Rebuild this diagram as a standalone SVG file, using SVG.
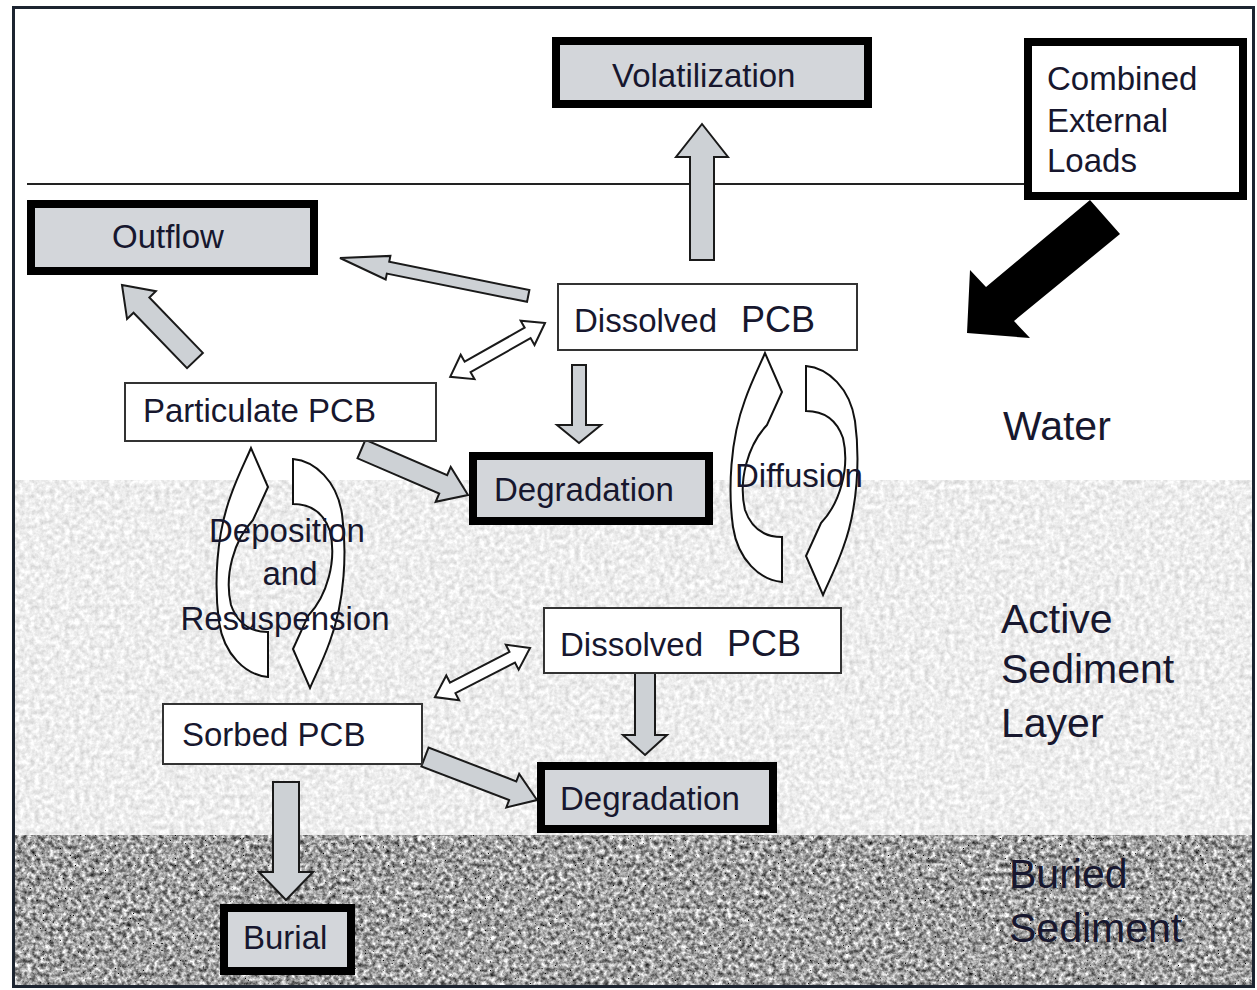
<svg xmlns="http://www.w3.org/2000/svg" width="1257" height="990" viewBox="0 0 1257 990">
<style>
 .t{font-family:"Liberation Sans",Arial,sans-serif;font-size:33px;fill:#17172e}
 .lbl{font-size:41px}
 .pcb{font-size:36px}
 .thick{fill:#d3d6da;stroke:#000;stroke-width:8}
 .thin{fill:#fff;stroke:#333;stroke-width:2}
 .ga{fill:#cdd1d5;stroke:#1a1a1a;stroke-width:2}
 .wa{fill:#fff;stroke:#1a1a1a;stroke-width:2}
 .curl{fill:#fff;stroke:#111;stroke-width:2}
</style>
<defs>
 <filter id="fa" x="0" y="0" width="1" height="1" color-interpolation-filters="sRGB">
  <feTurbulence type="fractalNoise" baseFrequency="0.2" numOctaves="3" seed="4"/>
  <feColorMatrix type="matrix" values="0.3 0 0 0 0.78  0.3 0 0 0 0.78  0.3 0 0 0 0.78  0 0 0 0 1"/>
  <feComposite in2="SourceGraphic" operator="in"/>
 </filter>
 <filter id="fb" x="0" y="0" width="1" height="1" color-interpolation-filters="sRGB">
  <feTurbulence type="fractalNoise" baseFrequency="0.22" numOctaves="3" seed="7" result="n"/>
  <feColorMatrix in="n" type="matrix" values="1.3 0 0 0 -0.02  1.3 0 0 0 -0.02  1.3 0 0 0 -0.02  0 0 0 0 1" result="g"/>
  <feTurbulence type="fractalNoise" baseFrequency="0.6" numOctaves="1" seed="11" result="n2"/>
  <feColorMatrix in="n2" type="matrix" values="0 0 0 0 0  0 0 0 0 0  0 0 0 0 0  14 0 0 0 -10" result="d"/>
  <feComposite in="d" in2="g" operator="over"/>
  <feComposite in2="SourceGraphic" operator="in"/>
 </filter>
 <path id="curl" d="M782,582 C760,580 738,560 733,527 C728,490 730,440 745,400 C752,380 760,365 765,353 L782,392 L767,425 C748,445 738,480 745,510 C752,530 765,537 782,537 Z"/>
</defs>

<g id="background">
 <rect x="0" y="0" width="1257" height="990" fill="#fff"/>
 <rect x="15" y="480" width="1238" height="356" fill="#eee" filter="url(#fa)"/>
 <rect x="15" y="835" width="1238" height="151" fill="#999" filter="url(#fb)"/>
 <line x1="27" y1="184" x2="1026" y2="184" stroke="#222" stroke-width="2"/>
 <rect x="13.5" y="7.5" width="1240" height="979" fill="none" stroke="#1c2430" stroke-width="3"/>
</g>

<g id="connectors">
 <polygon class="ga" transform="translate(702,124) rotate(-90)" points="0,0 -33,-26 -33,-12 -136,-12 -136,12 -33,12 -33,26"/>
 <polygon class="ga" transform="translate(340,258) rotate(191.4)" points="0,0 -49,-12 -49,-6 -192,-6 -192,6 -49,6 -49,12"/>
 <polygon class="ga" transform="translate(122,285) rotate(226)" points="0,0 -28,-20 -28,-11 -105,-11 -105,11 -28,11 -28,20"/>
 <polygon class="wa" transform="translate(545,323) rotate(-29.6)" points="0,0 -20,-14 -20,-6 -89,-6 -89,-14 -109,0 -89,14 -89,6 -20,6 -20,14"/>
 <polygon class="ga" transform="translate(579,443) rotate(90)" points="0,0 -18,-22 -18,-7 -78,-7 -78,7 -18,7 -18,22"/>
 <polygon class="ga" transform="translate(468,495) rotate(23.3)" points="0,0 -27,-19 -27,-10 -116,-10 -116,10 -27,10 -27,19"/>
 <polygon class="ga" transform="translate(645,755) rotate(90)" points="0,0 -20,-22 -20,-10 -82,-10 -82,10 -20,10 -20,22"/>
 <polygon class="wa" transform="translate(530,648) rotate(-27.3)" points="0,0 -20,-14 -20,-6 -87,-6 -87,-14 -107,0 -87,14 -87,6 -20,6 -20,14"/>
 <polygon class="ga" transform="translate(537,800) rotate(21)" points="0,0 -26,-18 -26,-10 -120,-10 -120,10 -26,10 -26,18"/>
 <polygon class="ga" transform="translate(286,900) rotate(90)" points="0,0 -28,-27 -28,-13 -118,-13 -118,13 -28,13 -28,27"/>
 <polygon fill="#000" points="1090,200 1120,234 1014,321 1030,338 967,333 970,270 986,287"/>
 <use href="#curl" class="curl"/>
 <use href="#curl" class="curl" transform="rotate(180 794 474)"/>
 <use href="#curl" class="curl" transform="translate(-514 95)"/>
 <use href="#curl" class="curl" transform="translate(-513 93) rotate(180 794 474)"/>
 <text class="t" x="735" y="487">Diffusion</text>
 <text class="t" x="287" y="542" text-anchor="middle">Deposition</text>
 <text class="t" x="290" y="585" text-anchor="middle">and</text>
 <text class="t" x="285" y="630" text-anchor="middle">Resuspension</text>
</g>

<g id="volatilization">
 <rect class="thick" x="556" y="41" width="312" height="63"/>
 <text class="t" x="612" y="87">Volatilization</text>
</g>
<g id="combined-loads">
 <rect x="1028" y="42" width="215" height="154" fill="#fff" stroke="#000" stroke-width="8"/>
 <text class="t" x="1047" y="90">Combined</text>
 <text class="t" x="1047" y="132">External</text>
 <text class="t" x="1047" y="172">Loads</text>
</g>
<g id="outflow">
 <rect class="thick" x="31" y="204" width="283" height="67"/>
 <text class="t" x="112" y="248">Outflow</text>
</g>
<g id="dissolved-water">
 <rect class="thin" x="558" y="284" width="299" height="66"/>
 <text class="t" x="574" y="332">Dissolved</text>
 <text class="t pcb" x="741" y="332">PCB</text>
</g>
<g id="particulate">
 <rect class="thin" x="125" y="383" width="311" height="58"/>
 <text class="t" x="143" y="422">Particulate PCB</text>
</g>
<g id="degradation-water">
 <rect class="thick" x="473" y="456" width="236" height="65"/>
 <text class="t" x="494" y="501">Degradation</text>
</g>
<g id="dissolved-sediment">
 <rect class="thin" x="544" y="608" width="297" height="65"/>
 <text class="t" x="560" y="656">Dissolved</text>
 <text class="t pcb" x="727" y="656">PCB</text>
</g>
<g id="sorbed">
 <rect class="thin" x="163" y="704" width="259" height="60"/>
 <text class="t" x="182" y="746">Sorbed PCB</text>
</g>
<g id="degradation-sediment">
 <rect class="thick" x="541" y="766" width="232" height="63"/>
 <text class="t" x="560" y="810">Degradation</text>
</g>
<g id="burial">
 <rect class="thick" x="224" y="908" width="127" height="63"/>
 <text class="t" x="243" y="949">Burial</text>
</g>
<g id="labels">
 <text class="t lbl" x="1003" y="440">Water</text>
 <text class="t lbl" x="1001" y="633">Active</text>
 <text class="t lbl" x="1001" y="683">Sediment</text>
 <text class="t lbl" x="1001" y="737">Layer</text>
 <text class="t lbl" x="1009" y="888">Buried</text>
 <text class="t lbl" x="1009" y="942">Sediment</text>
</g>
</svg>
